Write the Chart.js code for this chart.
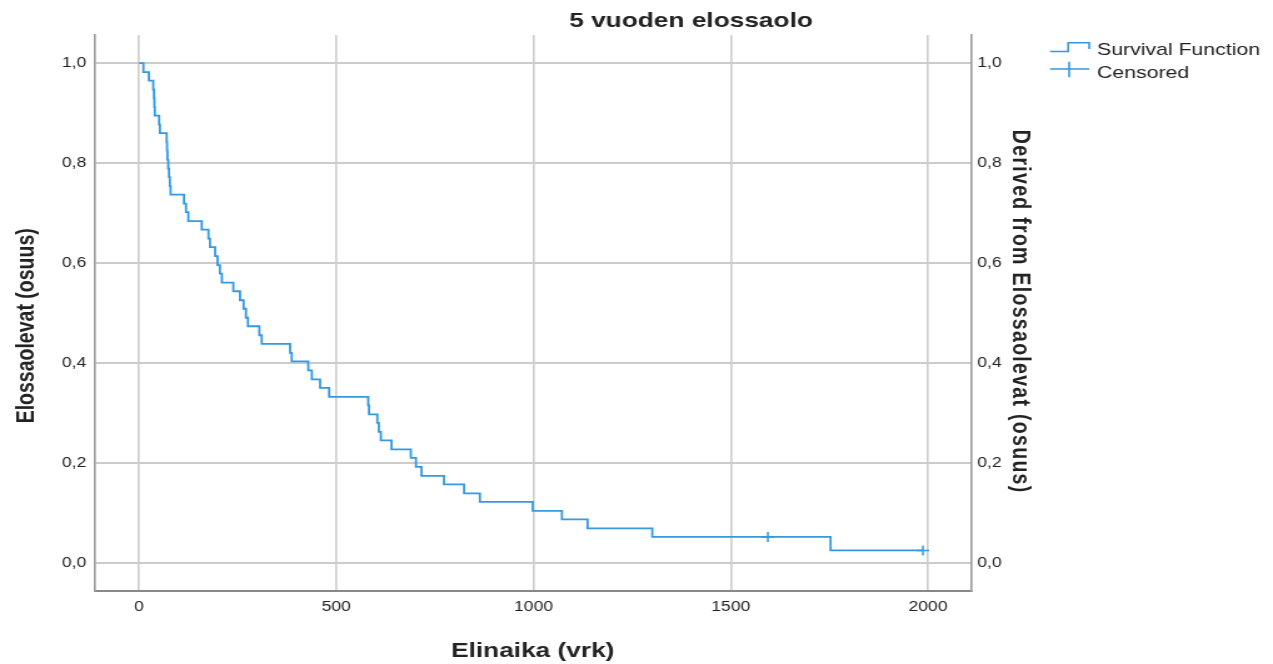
<!DOCTYPE html>
<html>
<head>
<meta charset="utf-8">
<title>5 vuoden elossaolo</title>
<script src="https://cdn.jsdelivr.net/npm/chart.js@4"></script>
<style>
  body { margin: 0; background: #fff; }
</style>
</head>
<body>
<!-- the reference is stretched sideways, so draw narrow and stretch the canvas -->
<canvas id="km" width="1018" height="664" style="display:block;width:1273px;height:664px"></canvas>
<script>
// Kaplan-Meier steps (days, survival)
const eventDays = [0, 11, 25, 36, 38, 39, 40, 51, 53, 70, 71, 72, 74, 76, 78, 80,
    114, 119, 125, 159, 176, 180, 193, 199, 205, 210, 239, 256, 265, 271, 276,
    305, 311, 383, 387, 429, 438, 459, 482, 581, 583, 604, 608, 613, 640,
    689, 702, 716, 773, 824, 864, 998, 1072, 1137, 1301, 1753, 1987];
const survival = [1.000, 0.982, 0.965, 0.947, 0.930, 0.912, 0.895, 0.877, 0.860,
    0.842, 0.825, 0.807, 0.789, 0.772, 0.754, 0.737, 0.719, 0.702, 0.684,
    0.667, 0.649, 0.632, 0.614, 0.596, 0.579, 0.561, 0.544, 0.526, 0.509,
    0.491, 0.474, 0.456, 0.439, 0.421, 0.404, 0.386, 0.368, 0.351, 0.333,
    0.316, 0.298, 0.281, 0.263, 0.246, 0.228, 0.211, 0.193, 0.175, 0.158,
    0.140, 0.123, 0.105, 0.088, 0.070, 0.053, 0.026, 0.026];

// Censored cases
const censoredDays = [1594, 1987];
const censoredSurv = [0.053, 0.026];

// Axis ticks
const xTicks = [0, 500, 1000, 1500, 2000];
const yTicks = [0, 0.2, 0.4, 0.6, 0.8, 1.0];

const lineColor = "#3399e3";
const textColor = "#222";
const fontFamily = "'Liberation Sans', Arial, sans-serif";

function fmt(v) {
    return v.toFixed(1).replace(".", ",");
}

// Titles and legend, drawn by hand like the SPSS output
const decorations = {
    id: "decorations",
    afterDraw(chart) {
        const ctx = chart.ctx;
        ctx.save();
        ctx.fillStyle = textColor;
        ctx.textBaseline = "alphabetic";
        ctx.textAlign = "center";

        // chart title
        ctx.font = "bold 21px " + fontFamily;
        ctx.fillText("5 vuoden elossaolo", 552.6, 27);

        // x axis title
        ctx.fillText("Elinaika (vrk)", 426, 656.5);

        // left axis title
        ctx.font = "bold 19.5px " + fontFamily;
        ctx.save();
        ctx.translate(26.6, 325.8);
        ctx.rotate(-Math.PI / 2);
        ctx.fillText("Elossaolevat (osuus)", 0, 0);
        ctx.restore();

        // right axis title
        ctx.save();
        ctx.translate(809.5, 311.7);
        ctx.rotate(Math.PI / 2);
        ctx.letterSpacing = "1.3px";
        ctx.fillText("Derived from Elossaolevat (osuus)", 0, 0);
        ctx.restore();

        // legend
        ctx.strokeStyle = lineColor;
        ctx.lineWidth = 1.6;
        ctx.beginPath();
        ctx.moveTo(839.7, 51.5);
        ctx.lineTo(854.2, 51.5);
        ctx.lineTo(854.2, 42.7);
        ctx.lineTo(871, 42.7);
        ctx.lineTo(871, 49);
        ctx.stroke();

        ctx.beginPath();
        ctx.moveTo(839.7, 69);
        ctx.lineTo(871, 69);
        ctx.moveTo(855, 61.7);
        ctx.lineTo(855, 77.3);
        ctx.stroke();

        ctx.textAlign = "left";
        ctx.font = "17px " + fontFamily;
        ctx.fillText("Survival Function", 877.3, 55);
        ctx.fillText("Censored", 877.3, 78);
        ctx.restore();
    }
};

const yScale = {
    type: "linear",
    min: -0.055,
    max: 1.056,
    afterBuildTicks: s => { s.ticks = yTicks.map(v => ({ value: v })); },
    ticks: {
        callback: v => fmt(v),
        color: textColor,
        font: { family: fontFamily, size: 14 },
        padding: 7
    },
    grid: { color: "#cccccc", lineWidth: 2, drawTicks: false },
    border: { color: "#999", width: 1.6 }
};

new Chart(document.getElementById("km"), {
    type: "scatter",
    data: {
        datasets: [{
            label: "Survival Function",
            data: eventDays.map((d, i) => ({ x: d, y: survival[i] })),
            showLine: true,
            stepped: true,
            borderColor: lineColor,
            borderWidth: 1.8,
            pointRadius: 0,
            fill: false
        }, {
            label: "Censored",
            data: censoredDays.map((d, i) => ({ x: d, y: censoredSurv[i] })),
            showLine: false,
            pointStyle: "cross",
            pointRadius: 5,
            borderColor: lineColor,
            borderWidth: 1.5
        }]
    },
    options: {
        responsive: false,
        devicePixelRatio: 1,
        animation: false,
        layout: { padding: { top: 35, right: 181.5, bottom: 0, left: 0 } },
        scales: {
            x: {
                type: "linear",
                min: -111.5,
                max: 2109,
                afterBuildTicks: s => { s.ticks = xTicks.map(v => ({ value: v })); },
                afterFit: s => { s.height = 73; },
                ticks: {
                    callback: v => String(v),
                    color: textColor,
                    font: { family: fontFamily, size: 14 },
                    padding: 8,
                    maxRotation: 0
                },
                grid: { color: "#cccccc", lineWidth: 1.6, drawTicks: false },
                border: { color: "#888", width: 2 }
            },
            y: Object.assign({}, yScale, {
                position: "left",
                afterFit: s => { s.width = 76; }
            }),
            y2: Object.assign({}, yScale, {
                position: "right",
                afterFit: s => { s.width = 60; },
                ticks: Object.assign({}, yScale.ticks, { padding: 5 }),
                grid: { drawOnChartArea: false, drawTicks: false }
            })
        },
        plugins: {
            legend: { display: false },
            tooltip: { enabled: false },
            title: { display: false }
        }
    },
    plugins: [decorations]
});
</script>
</body>
</html>
